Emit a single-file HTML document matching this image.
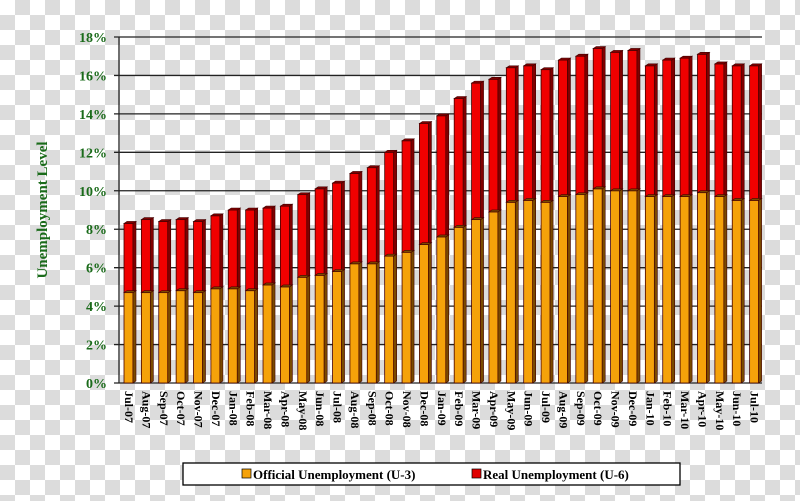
<!DOCTYPE html>
<html><head><meta charset="utf-8"><style>
body{margin:0;width:800px;height:501px;overflow:hidden;
background:conic-gradient(#dcdcdc 25%,#fff 0 50%,#dcdcdc 0 75%,#fff 0);
background-size:30px 30px;background-position:0 0;}
svg{position:absolute;left:0;top:0}
text{font-family:"Liberation Serif",serif;font-weight:bold}
</style></head><body>
<svg width="800" height="501" id="chart"></svg>
<script>
const categories=["Jul-07","Aug-07","Sep-07","Oct-07","Nov-07","Dec-07","Jan-08","Feb-08","Mar-08","Apr-08","May-08","Jun-08","Jul-08","Aug-08","Sep-08","Oct-08","Nov-08","Dec-08","Jan-09","Feb-09","Mar-09","Apr-09","May-09","Jun-09","Jul-09","Aug-09","Sep-09","Oct-09","Nov-09","Dec-09","Jan-10","Feb-10","Mar-10","Apr-10","May-10","Jun-10","Jul-10"];
const officialU3=[4.7,4.7,4.7,4.8,4.7,4.9,4.9,4.8,5.1,5.0,5.5,5.6,5.8,6.2,6.2,6.6,6.8,7.2,7.6,8.1,8.5,8.9,9.4,9.5,9.4,9.7,9.8,10.1,10.0,10.0,9.7,9.7,9.7,9.9,9.7,9.5,9.5];
const realU6=[8.3,8.5,8.4,8.5,8.4,8.7,9.0,9.0,9.1,9.2,9.8,10.1,10.4,10.9,11.2,12.0,12.6,13.5,13.9,14.8,15.6,15.8,16.4,16.5,16.3,16.8,17.0,17.4,17.2,17.3,16.5,16.8,16.9,17.1,16.6,16.5,16.5];
const yTicks=[0,2,4,6,8,10,12,14,16,18];
const NS="http://www.w3.org/2000/svg";
const svg=document.getElementById('chart');
const X0=119,X1=762,Y0=383,Y1=37,YMAX=18;
const slot=(X1-X0)/categories.length;
const y=v=>Y0-(v/YMAX)*(Y0-Y1);
const xs=i=>X0+i*slot;
function mk(t,a,p){const e=document.createElementNS(NS,t);for(const k in a)e.setAttribute(k,a[k]);(p||svg).appendChild(e);return e;}
yTicks.forEach(t=>{
  const g=mk('line',{x1:X0-5,x2:X1,y1:y(t),y2:y(t),stroke:'#222','stroke-width':1.3});
  
  
  const l=mk('text',{x:107,y:y(t)+5,'text-anchor':'end','font-size':14,fill:'#1a6b1a'});
  l.textContent=t+'%';
  
  
});
const ax=mk('line',{x1:X0,x2:X0,y1:Y1,y2:Y0,stroke:'#222','stroke-width':1.3});


function bar(x,top,bot,fill,dark,name){
  const g=mk('g',{});
  
  
  mk('rect',{x:x,y:top,width:9,height:bot-top,fill:fill,stroke:'#400','stroke-width':0.8},g);
  mk('polygon',{points:`${x+9},${top} ${x+12},${top-2} ${x+12},${bot-2} ${x+9},${bot}`,fill:dark,stroke:'#400','stroke-width':0.6},g);
  mk('polygon',{points:`${x},${top} ${x+3},${top-2} ${x+12},${top-2} ${x+9},${top}`,fill:dark,stroke:'#400','stroke-width':0.6},g);
}
categories.forEach((c,i)=>{
  const x=xs(i)+5;
  bar(x,y(realU6[i]),y(officialU3[i]),'#f00000','#800000','bar-u6-'+c);
  bar(x,y(officialU3[i]),Y0,'#f5a20a','#7a4a00','bar-u3-'+c);
  const cx=x+5;
  const t=mk('text',{x:0,y:0,'font-size':12,fill:'#000',transform:`translate(${cx-4},391) rotate(90)`});
  t.textContent=c;
  
  
});
const yt=mk('text',{x:0,y:0,'font-size':15,fill:'#1a6b1a','text-anchor':'middle',transform:'translate(47,210) rotate(-90)'});
yt.textContent='Unemployment Level';


const lg=mk('g',{});


mk('rect',{x:183,y:463,width:497,height:22,fill:'#fff',stroke:'#000','stroke-width':1.3},lg);
mk('rect',{x:242,y:469,width:9,height:9,fill:'#f5a20a',stroke:'#000','stroke-width':0.7},lg);
const l1=mk('text',{x:253,y:479,'font-size':13,fill:'#000'},lg);l1.textContent='Official Unemployment (U-3)';


mk('rect',{x:472,y:469,width:9,height:9,fill:'#e00000',stroke:'#000','stroke-width':0.7},lg);
const l2=mk('text',{x:483,y:479,'font-size':13,fill:'#000'},lg);l2.textContent='Real Unemployment (U-6)';


</script>
</body></html>
